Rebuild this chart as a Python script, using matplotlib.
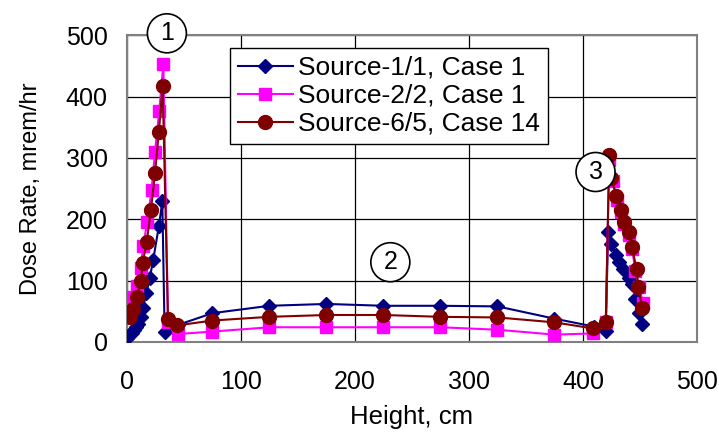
import matplotlib
matplotlib.use("Agg")
import matplotlib.pyplot as plt

plt.rcParams['font.family'] = ['Liberation Sans', 'DejaVu Sans']

# Source-1/1, Case 1
x1 = [0, 2, 4, 6, 8, 10, 12, 14, 17, 20, 23, 28, 31, 33, 45, 75, 125, 175, 225, 275, 325, 375, 410,
      420, 422, 425, 429, 432, 435, 440, 443, 446, 449, 452]
y1 = [7, 11, 15, 19, 25, 30, 40, 55, 80, 104, 134, 189, 229, 17, 28, 47, 59, 62, 59, 59, 58, 38, 25,
      18, 179, 159, 141, 130, 119, 105, 94, 70, 48, 29]

# Source-2/2, Case 1
x2 = [0, 2, 5, 8.5, 12, 14.3, 17.8, 21.6, 24.6, 28.3, 31.9, 36, 45, 75, 125, 175, 225, 275, 325, 375, 409,
      420, 423, 426, 430, 433, 436, 440, 443, 446, 449, 453]
y2 = [40, 48, 73, 92, 121, 157, 196, 248, 310, 376, 453, 32, 13, 17, 24, 24, 24, 24, 20, 12, 14,
      32, 296, 263, 231, 212, 193, 174, 152, 116, 89, 63]

# Source-6/5, Case 14
x3 = [1, 2.6, 5.6, 8.5, 12.3, 13.7, 17.3, 21, 24.6, 28, 31.3, 36, 44, 75, 125, 175, 225, 275, 325, 375, 409,
      420, 423, 425, 429, 433, 436, 440, 443, 447, 448.5, 452]
y3 = [45, 40, 53, 73, 100, 128, 163, 215, 275, 343, 417, 37, 27, 35, 41, 44, 44, 41, 40, 32, 22,
      32, 304, 267, 238, 215, 196, 179, 154, 119, 89, 56]

labels = ["Source-1/1, Case 1", "Source-2/2, Case 1", "Source-6/5, Case 14"]
xticks = [0, 100, 200, 300, 400, 500]
yticks = [0, 100, 200, 300, 400, 500]

fig = plt.figure(figsize=(7.19, 4.34), dpi=100)
ax = fig.add_axes([0.1766, 0.212, 0.7928, 0.707])

ax.plot(x1, y1, color='#000080', marker='D', markersize=7, lw=1.5, label=labels[0], zorder=3)
ax.plot(x2, y2, color='#FF00FF', marker='s', markersize=9, lw=1.5, label=labels[1], zorder=4)
ax.plot(x3, y3, color='#800000', marker='o', markersize=10, lw=1.5, label=labels[2], zorder=5)

ax.set_xlim(0, 500)
ax.set_ylim(0, 500)
ax.set_xticks(xticks)
ax.set_yticks(yticks)
ax.grid(True, color='#000000', lw=0.9)
ax.set_axisbelow(True)
for s in ax.spines.values():
    s.set_color('#808080')
    s.set_linewidth(1.5)
ax.tick_params(axis='both', labelsize=18, length=0)
ax.tick_params(axis='x', pad=20)
ax.tick_params(axis='y', pad=14)
ax.set_xlabel("Height, cm", fontsize=18.5, labelpad=8)
ax.set_ylabel("Dose Rate, mrem/hr", fontsize=17, labelpad=17)

leg = ax.legend(loc='upper left', bbox_to_anchor=(0.1805, 0.958), fontsize=19,
                frameon=True, fancybox=False, edgecolor='#000000', framealpha=1,
                handlelength=2.1, handletextpad=0.2, borderpad=0.3, labelspacing=0.15,
                borderaxespad=0)
leg.get_frame().set_linewidth(1.0)

circ = dict(boxstyle='circle,pad=0.3', fc='white', ec='black', lw=1.2)
ax.text(35, 503, "1", fontsize=18, ha='center', va='center', bbox=circ, zorder=10, clip_on=False)
ax.text(231, 130, "2", fontsize=18, ha='center', va='center', bbox=circ, zorder=10)
ax.text(411, 277, "3", fontsize=18, ha='center', va='center', bbox=circ, zorder=10)

fig.savefig("out.png", dpi=100)
